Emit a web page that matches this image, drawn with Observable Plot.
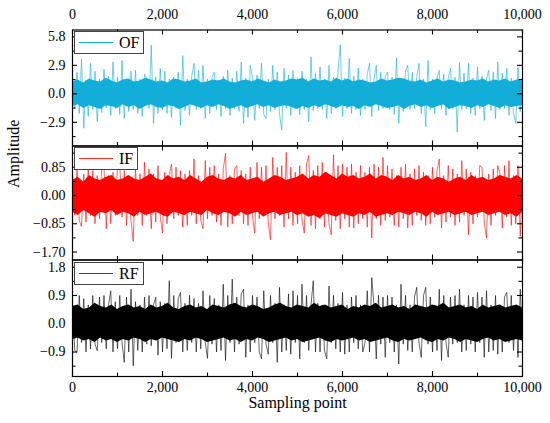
<!DOCTYPE html>
<html><head><meta charset="utf-8">
<script src="https://cdn.jsdelivr.net/npm/d3@7"></script>
<script src="https://cdn.jsdelivr.net/npm/@observablehq/plot@0.6"></script>
<style>
body{margin:0;background:#fff;}
#chart{position:relative;width:550px;height:423px;font-family:'Liberation Serif',serif;background:#fff;}
#chart svg, #chart svg text, #chart svg g{font-family:'Liberation Serif',serif !important;}
.legend{position:absolute;left:74px;height:23px;box-sizing:border-box;border:1px solid #444;background:#fff;display:flex;align-items:center;padding:0 4px 0 4px;font-size:16px;color:#000;}
.legend .ln{display:inline-block;width:34px;height:0;margin-right:6px;}
</style>
</head><body><div id="chart"></div>
<script>
// ---- data ----
const sampleStep = 50;     // sampling points between successive listed values
const coreStep = 125;      // sampling points between envelope values of the dense core
const xLabels = [0, 2000, 4000, 6000, 8000, 10000];

const ofTicks = [-2.9, 0, 2.9, 5.8];
const ifTicks = [-1.70, -0.85, 0, 0.85];
const rfTicks = [-0.9, 0, 0.9, 1.8];

const ofValues = [
 1.6,-1.5,2.2,-2.0,3.5,-3.5,1.4,-2.3,3.1,-1.6,
 2.3,-2.85,1.5,-1.9,2.5,-1.4,1.8,-2.2,3.25,-1.5,
 1.7,-2.1,3.4,-2.5,1.5,-1.8,2.3,-1.6,2.4,-2.0,
 1.5,-2.3,2.0,1.6,-1.5,4.95,-3.0,1.7,-2.0,2.6,
 -1.6,2.3,-2.0,1.5,-2.4,1.7,-1.5,2.2,-3.2,3.9,
 -1.7,1.5,-2.2,1.8,3.1,-1.6,2.4,-1.5,2.9,-2.5,
 1.5,-2.0,1.7,2.2,-1.6,1.4,-2.3,1.8,-1.5,2.4,
 -2.2,1.6,-1.5,2.3,-1.8,3.25,-3.0,1.6,-2.4,2.9,
 1.6,-2.7,1.9,-1.5,3.1,-2.1,-2.5,1.5,-1.8,2.9,
 -1.6,2.2,-2.0,-3.7,2.6,-1.5,1.9,-2.2,2.4,-1.5,
 1.6,-2.1,2.3,-1.6,1.5,-2.85,3.76,-1.7,2.1,-1.5,
 2.75,-1.6,1.5,-2.5,2.9,-2.0,1.7,-1.5,2.2,5.0,
 -2.3,1.6,-1.5,3.6,-2.0,1.8,-1.6,2.6,-2.2,1.5,
 -1.6,2.0,3.1,-2.3,1.5,2.9,-1.7,2.2,-1.5,1.8,
 2.2,-1.6,1.7,-2.1,3.66,-3.0,1.5,-1.8,2.3,2.9,
 -1.6,2.2,-1.5,1.7,3.1,-2.0,1.5,-3.35,3.4,-1.6,
 1.5,-2.0,1.7,2.4,-1.5,2.0,-2.2,1.6,2.6,-1.5,
 1.7,-3.9,3.2,-1.6,2.1,-1.5,3.1,-2.0,1.6,-2.2,
 2.75,-1.5,1.8,-2.7,1.5,2.4,-1.7,2.2,-2.5,3.25,
 -1.6,2.1,-1.5,2.6,-2.2,1.6,-2.0,-3.0,2.7,-1.8,
 1.4
];
const ofCoreHi = [
 1.2,1.4,1.1,1.5,1.3,1.2,1.6,1.3,1.1,1.4, 1.5,1.2,1.3,1.6,1.4,1.2,1.3,1.1,1.5,1.4,
 1.2,1.3,1.5,1.1,1.2,1.4,1.3,1.5,1.2,1.1, 1.3,1.4,1.2,1.5,1.3,1.1,1.4,1.2,1.3,1.5,
 1.4,1.6,1.2,1.5,1.3,1.4,1.2,1.6,1.3,1.5, 1.2,1.4,1.3,1.1,1.2,1.5,1.3,1.4,1.6,1.5,
 1.3,1.2,1.4,1.1,1.3,1.5,1.2,1.4,1.3,1.1, 1.2,1.4,1.3,1.5,1.2,1.4,1.3,1.5,1.2,1.4,
 1.3
];
const ofCoreLo = [
 -1.3,-1.1,-1.5,-1.2,-1.4,-1.6,-1.2,-1.3,-1.5,-1.1, -1.4,-1.2,-1.6,-1.3,-1.1,-1.4,-1.5,-1.2,-1.3,-1.6,
 -1.4,-1.1,-1.3,-1.5,-1.2,-1.4,-1.1,-1.3,-1.6,-1.4, -1.2,-1.5,-1.3,-1.1,-1.4,-1.2,-1.5,-1.3,-1.2,-1.4,
 -1.6,-1.3,-1.5,-1.2,-1.4,-1.1,-1.3,-1.5,-1.2,-1.4, -1.3,-1.6,-1.2,-1.4,-1.1,-1.3,-1.5,-1.4,-1.2,-1.6,
 -1.3,-1.1,-1.4,-1.2,-1.5,-1.3,-1.1,-1.6,-1.4,-1.2, -1.3,-1.5,-1.2,-1.4,-1.1,-1.3,-1.5,-1.2,-1.4,-1.3,
 -1.2
];

const ifValues = [
 0.7,-0.6,0.85,-0.75,-0.93,0.65,-0.8,0.9,-0.6,0.75,
 -0.85,0.6,-0.7,0.9,0.85,-1.0,0.6,-0.85,0.7,-0.6,
 0.9,0.95,-0.65,0.75,-0.9,0.6,-0.75,-1.38,0.85,-0.6,
 0.65,-0.9,1.0,-0.6,0.8,-1.0,0.65,-0.8,0.9,-0.65,
 -1.13,0.7,-0.85,0.6,0.95,-0.7,0.85,-0.6,0.75,-0.95,
 0.65,-0.9,0.75,-0.6,1.1,-0.85,0.6,-0.75,-1.0,1.05,
 -0.7,0.85,-0.6,0.9,-0.8,0.65,-0.9,0.8,1.27,-0.95,
 0.6,-0.85,0.8,0.9,-0.6,0.75,-0.85,0.65,-0.9,0.85,
 -0.65,-1.13,1.0,-0.7,0.85,-0.6,0.9,-0.8,-1.33,1.15,
 -0.7,0.85,-0.6,0.9,-0.95,1.3,-0.7,0.85,-0.9,0.7,
 -0.85,0.9,-0.7,-1.13,0.95,1.2,-0.9,0.75,-1.0,0.9,
 -0.7,1.0,-0.95,0.7,-0.85,-1.18,1.23,-0.75,0.9,-1.0,
 0.95,-0.7,0.85,-0.95,0.95,-0.98,0.7,-0.85,0.9,-0.7,
 0.7,-0.95,0.85,-1.28,0.95,-0.7,0.85,-0.9,1.15,-0.75,
 0.9,-0.65,0.8,-0.9,0.6,-0.95,0.85,-0.7,0.95,-0.98,
 0.65,-0.9,0.8,-0.6,0.9,-0.75,0.7,-0.9,0.6,-0.85,
 0.85,-0.65,0.75,1.1,-0.98,0.6,-0.8,0.9,-0.65,0.8,
 -0.9,0.65,-0.8,1.05,-0.6,0.8,-1.18,0.7,-0.85,0.6,
 -0.65,0.9,0.85,-0.8,-1.28,0.65,-0.9,0.8,-0.6,0.9,
 0.65,-0.98,0.9,-0.65,1.05,-0.9,0.6,-0.85,0.9,-1.23,
 0.6
];
const ifCoreHi = [
 0.45,0.55,0.4,0.6,0.5,0.45,0.55,0.6,0.45,0.5, 0.6,0.5,0.45,0.55,0.65,0.5,0.45,0.6,0.5,0.55,
 0.45,0.6,0.5,0.4,0.55,0.6,0.5,0.45,0.55,0.5, 0.6,0.45,0.5,0.55,0.4,0.5,0.6,0.55,0.45,0.5,
 0.55,0.65,0.5,0.6,0.55,0.7,0.6,0.5,0.65,0.55, 0.6,0.5,0.55,0.65,0.5,0.6,0.55,0.45,0.6,0.5,
 0.55,0.45,0.5,0.6,0.45,0.55,0.5,0.4,0.5,0.55, 0.45,0.6,0.5,0.55,0.45,0.5,0.6,0.55,0.5,0.6,
 0.5
];
const ifCoreLo = [
 -0.5,-0.6,-0.45,-0.55,-0.65,-0.5,-0.55,-0.45,-0.6,-0.5, -0.55,-0.65,-0.5,-0.6,-0.55,-0.5,-0.6,-0.65,-0.5,-0.55,
 -0.6,-0.5,-0.55,-0.6,-0.45,-0.55,-0.6,-0.5,-0.55,-0.65, -0.5,-0.6,-0.55,-0.5,-0.65,-0.55,-0.5,-0.6,-0.55,-0.5,
 -0.6,-0.55,-0.65,-0.6,-0.7,-0.55,-0.6,-0.65,-0.55,-0.6, -0.65,-0.55,-0.6,-0.5,-0.65,-0.6,-0.55,-0.6,-0.5,-0.55,
 -0.6,-0.5,-0.55,-0.65,-0.5,-0.6,-0.55,-0.5,-0.6,-0.55, -0.5,-0.6,-0.55,-0.5,-0.6,-0.55,-0.5,-0.6,-0.55,-0.65,
 -0.5
];

const rfValues = [
 0.65,-0.85,-0.91,0.9,-0.6,0.8,-0.9,0.6,-0.8,0.9,
 -0.65,-0.86,0.85,-0.6,0.9,-0.8,0.6,1.05,-0.9,0.7,
 -0.8,0.9,-0.6,-1.23,0.85,-0.9,1.1,-1.34,0.7,-0.85,
 0.6,-0.9,0.85,-0.65,0.9,-0.7,0.6,0.85,-1.0,0.7,
 -0.9,0.65,-0.8,1.37,-1.1,0.9,-0.6,0.8,1.0,-0.9,
 0.65,-0.85,0.9,-0.6,0.8,-0.9,0.65,-0.8,1.05,-0.6,
 -1.1,0.9,-0.65,0.8,-0.9,0.6,-0.85,1.26,-1.17,0.9,
 -0.6,1.42,-0.9,0.85,-0.65,0.95,1.1,-1.07,0.6,-0.9,
 0.9,-0.6,0.85,-0.9,-1.12,1.05,-0.65,-0.97,0.9,-0.6,
 0.65,-1.23,1.16,-0.9,0.6,-0.85,0.95,-0.97,1.05,-0.6,
 0.9,-1.12,1.26,-0.6,0.9,-0.85,0.6,1.37,-0.9,0.65,
 -0.9,0.6,-0.85,-1.12,1.2,-0.6,0.9,-0.8,0.65,-0.9,
 1.0,-0.97,0.6,-0.9,0.85,-0.6,0.9,-0.8,0.6,-0.9,
 -0.6,1.05,-0.9,1.47,0.6,-1.12,0.9,-0.65,0.85,-1.07,
 0.9,-0.6,0.85,-0.9,0.6,-1.28,1.26,-0.65,0.9,-0.85,
 0.6,-0.9,0.85,1.16,-0.6,-1.07,0.9,1.16,-0.65,0.85,
 -0.9,0.6,-0.85,1.1,-1.17,0.9,-0.6,-1.07,0.85,-0.65,
 0.9,-0.6,1.1,-0.9,0.6,-0.85,0.9,-0.65,0.85,-0.9,
 1.0,-0.6,0.85,-1.07,1.05,-0.9,0.6,-0.85,0.9,-0.97,
 0.6,-0.9,0.85,1.0,-0.6,0.9,-0.85,0.6,-1.07,1.1,
 -0.5
];
const rfCoreHi = [
 0.55,0.6,0.45,0.5,0.65,0.55,0.5,0.6,0.45,0.55, 0.6,0.5,0.55,0.45,0.6,0.5,0.55,0.65,0.5,0.45,
 0.55,0.6,0.5,0.55,0.45,0.6,0.55,0.5,0.6,0.65, 0.55,0.5,0.6,0.55,0.45,0.5,0.6,0.65,0.55,0.5,
 0.6,0.55,0.5,0.65,0.55,0.6,0.5,0.55,0.6,0.45, 0.55,0.5,0.6,0.55,0.65,0.5,0.55,0.6,0.5,0.55,
 0.45,0.6,0.55,0.5,0.6,0.55,0.65,0.5,0.55,0.6, 0.5,0.55,0.45,0.6,0.5,0.55,0.6,0.5,0.55,0.6,
 0.5
];
const rfCoreLo = [
 -0.5,-0.45,-0.55,-0.5,-0.6,-0.45,-0.55,-0.5,-0.6,-0.5, -0.55,-0.45,-0.5,-0.6,-0.5,-0.55,-0.45,-0.5,-0.55,-0.6,
 -0.5,-0.55,-0.45,-0.5,-0.6,-0.55,-0.5,-0.45,-0.55,-0.5, -0.6,-0.5,-0.55,-0.45,-0.5,-0.6,-0.55,-0.5,-0.45,-0.55,
 -0.5,-0.6,-0.55,-0.5,-0.45,-0.55,-0.6,-0.5,-0.55,-0.5, -0.45,-0.55,-0.5,-0.6,-0.55,-0.5,-0.45,-0.55,-0.6,-0.5,
 -0.55,-0.5,-0.45,-0.55,-0.6,-0.5,-0.55,-0.45,-0.5,-0.6, -0.5,-0.55,-0.6,-0.5,-0.45,-0.55,-0.5,-0.6,-0.55,-0.5,
 -0.55
];

// ---- drawing ----
const W = 550, H = 423, ML = 72, MR = 28;
const PW = W - ML - MR;
const xMinor = d3.range(0, 10001, 1000);
const font = "Liberation Serif";
const chart = document.getElementById("chart");

function midTicks(t) {
  const s = t[1] - t[0];
  const out = [t[0] - s / 2];
  for (const v of t) out.push(v + s / 2);
  return out;
}

function panel(o) {
  const ph = o.bottom - o.top;
  const sig = o.values.map((v, i) => ({x: i * sampleStep, y: v}));
  const core = o.hi.map((v, i) => ({x: i * coreStep, hi: v, lo: o.lo[i]}));
  const yAll = o.ticks.concat(midTicks(o.ticks)).filter(v => v > o.domain[0] && v < o.domain[1]);
  const marks = [
    Plot.areaY(core, {x: "x", y1: "lo", y2: "hi", fill: o.color}),
    Plot.lineY(sig, {x: "x", y: "y", stroke: o.color, strokeWidth: 0.8, strokeOpacity: 0.75}),
    Plot.frame({stroke: "#000", strokeWidth: 1.2})
  ];
  for (const v of xMinor) {
    const L = v % 2000 === 0 ? 5 : 3.5;
    marks.push(Plot.tickX([v], {x: d => d, insetTop: ph - L, stroke: "#000", strokeWidth: 1.1}));
    marks.push(Plot.tickX([v], {x: d => d, insetBottom: ph - L, stroke: "#000", strokeWidth: 1.1}));
  }
  for (const v of yAll) {
    const L = o.ticks.some(t => Math.abs(t - v) < 1e-9) ? 5 : 3.5;
    marks.push(Plot.tickY([v], {y: d => d, insetRight: PW - L, stroke: "#000", strokeWidth: 1.1}));
    marks.push(Plot.tickY([v], {y: d => d, insetLeft: PW - L, stroke: "#000", strokeWidth: 1.1}));
  }
  marks.push(Plot.axisY({ticks: o.ticks, tickSize: 0, tickPadding: 7, tickFormat: d3.format(o.fmt), label: null, fontSize: 14, fontFamily: font, fill: "#000"}));
  if (o.topAxis) marks.push(Plot.axisX({anchor: "top", ticks: xLabels, tickSize: 0, tickPadding: 11, tickFormat: d3.format(","), label: null, fontSize: 14, fontFamily: font, fill: "#000"}));
  if (o.bottomAxis) {
    marks.push(Plot.axisX({anchor: "bottom", ticks: xLabels, tickSize: 0, tickPadding: 6, tickFormat: d3.format(","), label: null, fontSize: 14, fontFamily: font, fill: "#000"}));
    marks.push(Plot.text(["Sampling point"], {text: d => d, frameAnchor: "bottom", dy: 31, fontSize: 16, fontFamily: font, fill: "#000"}));
  }
  if (o.yLabel) marks.push(Plot.text([o.yLabel], {text: d => d, frameAnchor: "left", dx: -59, dy: -15, rotate: -90, fontSize: 16, fontFamily: font, fill: "#000"}));
  const svg = Plot.plot({
    width: W, height: H,
    marginLeft: ML, marginRight: MR, marginTop: o.top, marginBottom: H - o.bottom,
    x: {domain: [0, 10000], axis: null, label: null},
    y: {domain: o.domain, axis: null, label: null},
    style: {background: "transparent", overflow: "visible", position: "absolute", left: "0px", top: "0px", fontFamily: font, fontSize: "14px", color: "#000"},
    marks
  });
  svg.querySelectorAll("text").forEach(t => t.setAttribute("font-family", font));
  chart.appendChild(svg);
}

panel({values: ofValues, hi: ofCoreHi, lo: ofCoreLo, domain: [-5.31, 6.5], ticks: ofTicks, fmt: ".1f", color: "#12aed9", top: 29.5, bottom: 145.5, topAxis: true});
panel({values: ifValues, hi: ifCoreHi, lo: ifCoreLo, domain: [-1.94, 1.49], ticks: ifTicks, fmt: ".2f", color: "#ff0000", top: 145.5, bottom: 259.5, yLabel: "Amplitude"});
panel({values: rfValues, hi: rfCoreHi, lo: rfCoreLo, domain: [-1.68, 2.03], ticks: rfTicks, fmt: ".1f", color: "#000000", top: 259.5, bottom: 376, bottomAxis: true});

// legends
const legends = [
  {name: "OF", color: "#12aed9", top: 31},
  {name: "IF", color: "#ff2a2a", top: 147},
  {name: "RF", color: "#444", top: 262}
];
for (const l of legends) {
  const d = document.createElement("div");
  d.className = "legend";
  d.style.top = l.top + "px";
  const ln = document.createElement("span");
  ln.className = "ln";
  ln.style.borderTop = "1px solid " + l.color;
  d.appendChild(ln);
  d.appendChild(document.createTextNode(l.name));
  chart.appendChild(d);
}
</script>
</body></html>
